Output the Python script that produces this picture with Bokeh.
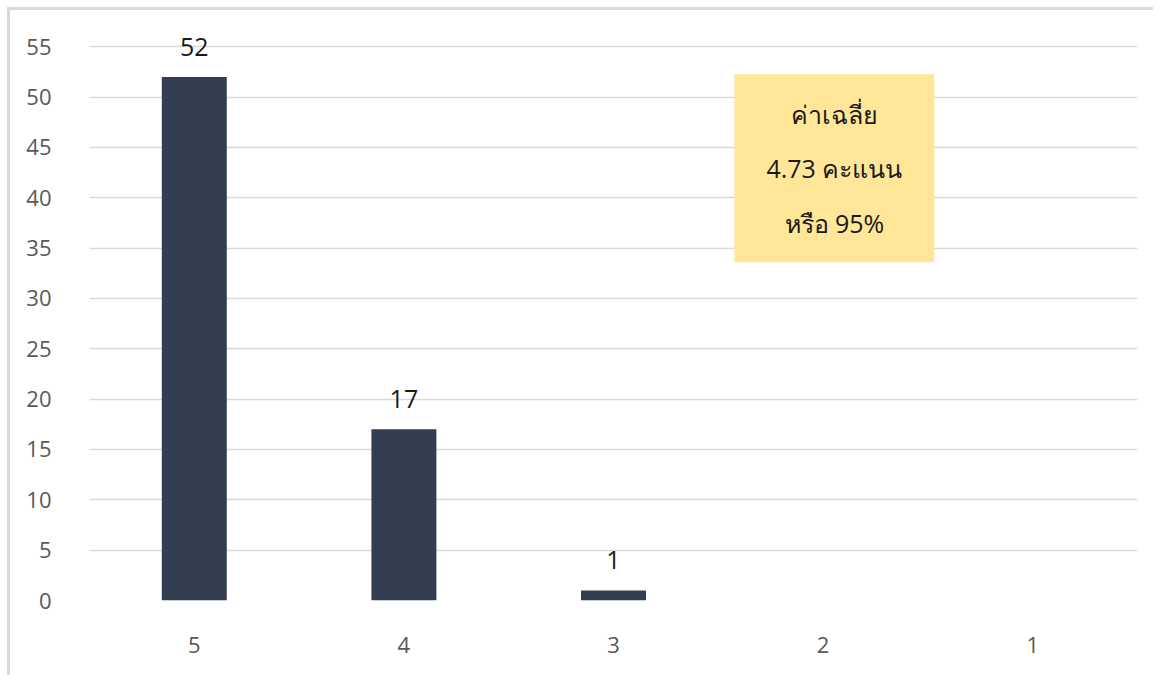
from bokeh.plotting import figure
from bokeh.models import Range1d, FixedTicker, BoxAnnotation, Label, ColumnDataSource
from bokeh.core.properties import value
from bokeh.embed import file_html
from bokeh.resources import INLINE

categories = ["5", "4", "3", "2", "1"]
counts = [52, 17, 1, 0, 0]
y_ticks = [0, 5, 10, 15, 20, 25, 30, 35, 40, 45, 50, 55]
note_lines = ["ค่าเฉลี่ย", "4.73 คะแนน", "หรือ 95%"]

positions = list(range(1, len(categories) + 1))
labels = [str(c) if c > 0 else "" for c in counts]
src = ColumnDataSource(dict(x=positions, top=counts, label=labels))

FONT = "Open Sans"

p = figure(width=1146, height=668, output_backend="svg", toolbar_location=None,
           x_range=Range1d(0.5, 5.5), y_range=Range1d(0, 58),
           min_border_left=79, min_border_right=19, min_border_top=6, min_border_bottom=78)
p.styles = {"margin-left": "7px", "margin-top": "7px",
            "border-left": "3px solid #d9d9d9", "border-top": "3px solid #d9d9d9"}
p.outline_line_color = None
p.background_fill_color = "white"
p.border_fill_color = "white"

p.vbar(x="x", top="top", bottom=0, width=0.31, source=src,
       fill_color="#333F50", line_color=None)

p.text(x="x", y="top", text="label", source=src, y_offset=-30,
       text_align="center", text_baseline="alphabetic",
       text_font=value(FONT), text_font_size="25px", text_color="#1a1a1a")

# y axis
p.yaxis.ticker = FixedTicker(ticks=y_ticks)
p.yaxis.axis_line_color = None
p.yaxis.major_tick_line_color = None
p.yaxis.minor_tick_line_color = None
p.yaxis.major_label_standoff = 32
p.yaxis.major_label_text_font = FONT
p.yaxis.major_label_text_font_size = "22px"
p.yaxis.major_label_text_color = "#595959"

# x axis
p.xaxis.ticker = FixedTicker(ticks=positions)
p.xaxis.major_label_overrides = {pos: c for pos, c in zip(positions, categories)}
p.xaxis.axis_line_color = None
p.xaxis.major_tick_line_color = None
p.xaxis.minor_tick_line_color = None
p.xaxis.major_label_standoff = 30
p.xaxis.major_label_text_font = FONT
p.xaxis.major_label_text_font_size = "22px"
p.xaxis.major_label_text_color = "#595959"

p.xgrid.grid_line_color = None
p.ygrid.ticker = FixedTicker(ticks=y_ticks)
p.ygrid.grid_line_color = "#d9d9d9"
p.ygrid.grid_line_width = 1.6

# note box
p.add_layout(BoxAnnotation(left=3.577, right=4.531, bottom=33.6, top=52.27,
                           fill_color="#FFE699", fill_alpha=1.0, line_color=None,
                           level="annotation"))
p.add_layout(Label(x=4.054, y=42.93, text="\n".join(note_lines),
                   text_align="center", text_baseline="middle",
                   text_font=FONT, text_font_size="25px", text_color="#1a1a1a",
                   text_line_height=1.6))

open("out.html", "w").write(file_html(p, INLINE))
